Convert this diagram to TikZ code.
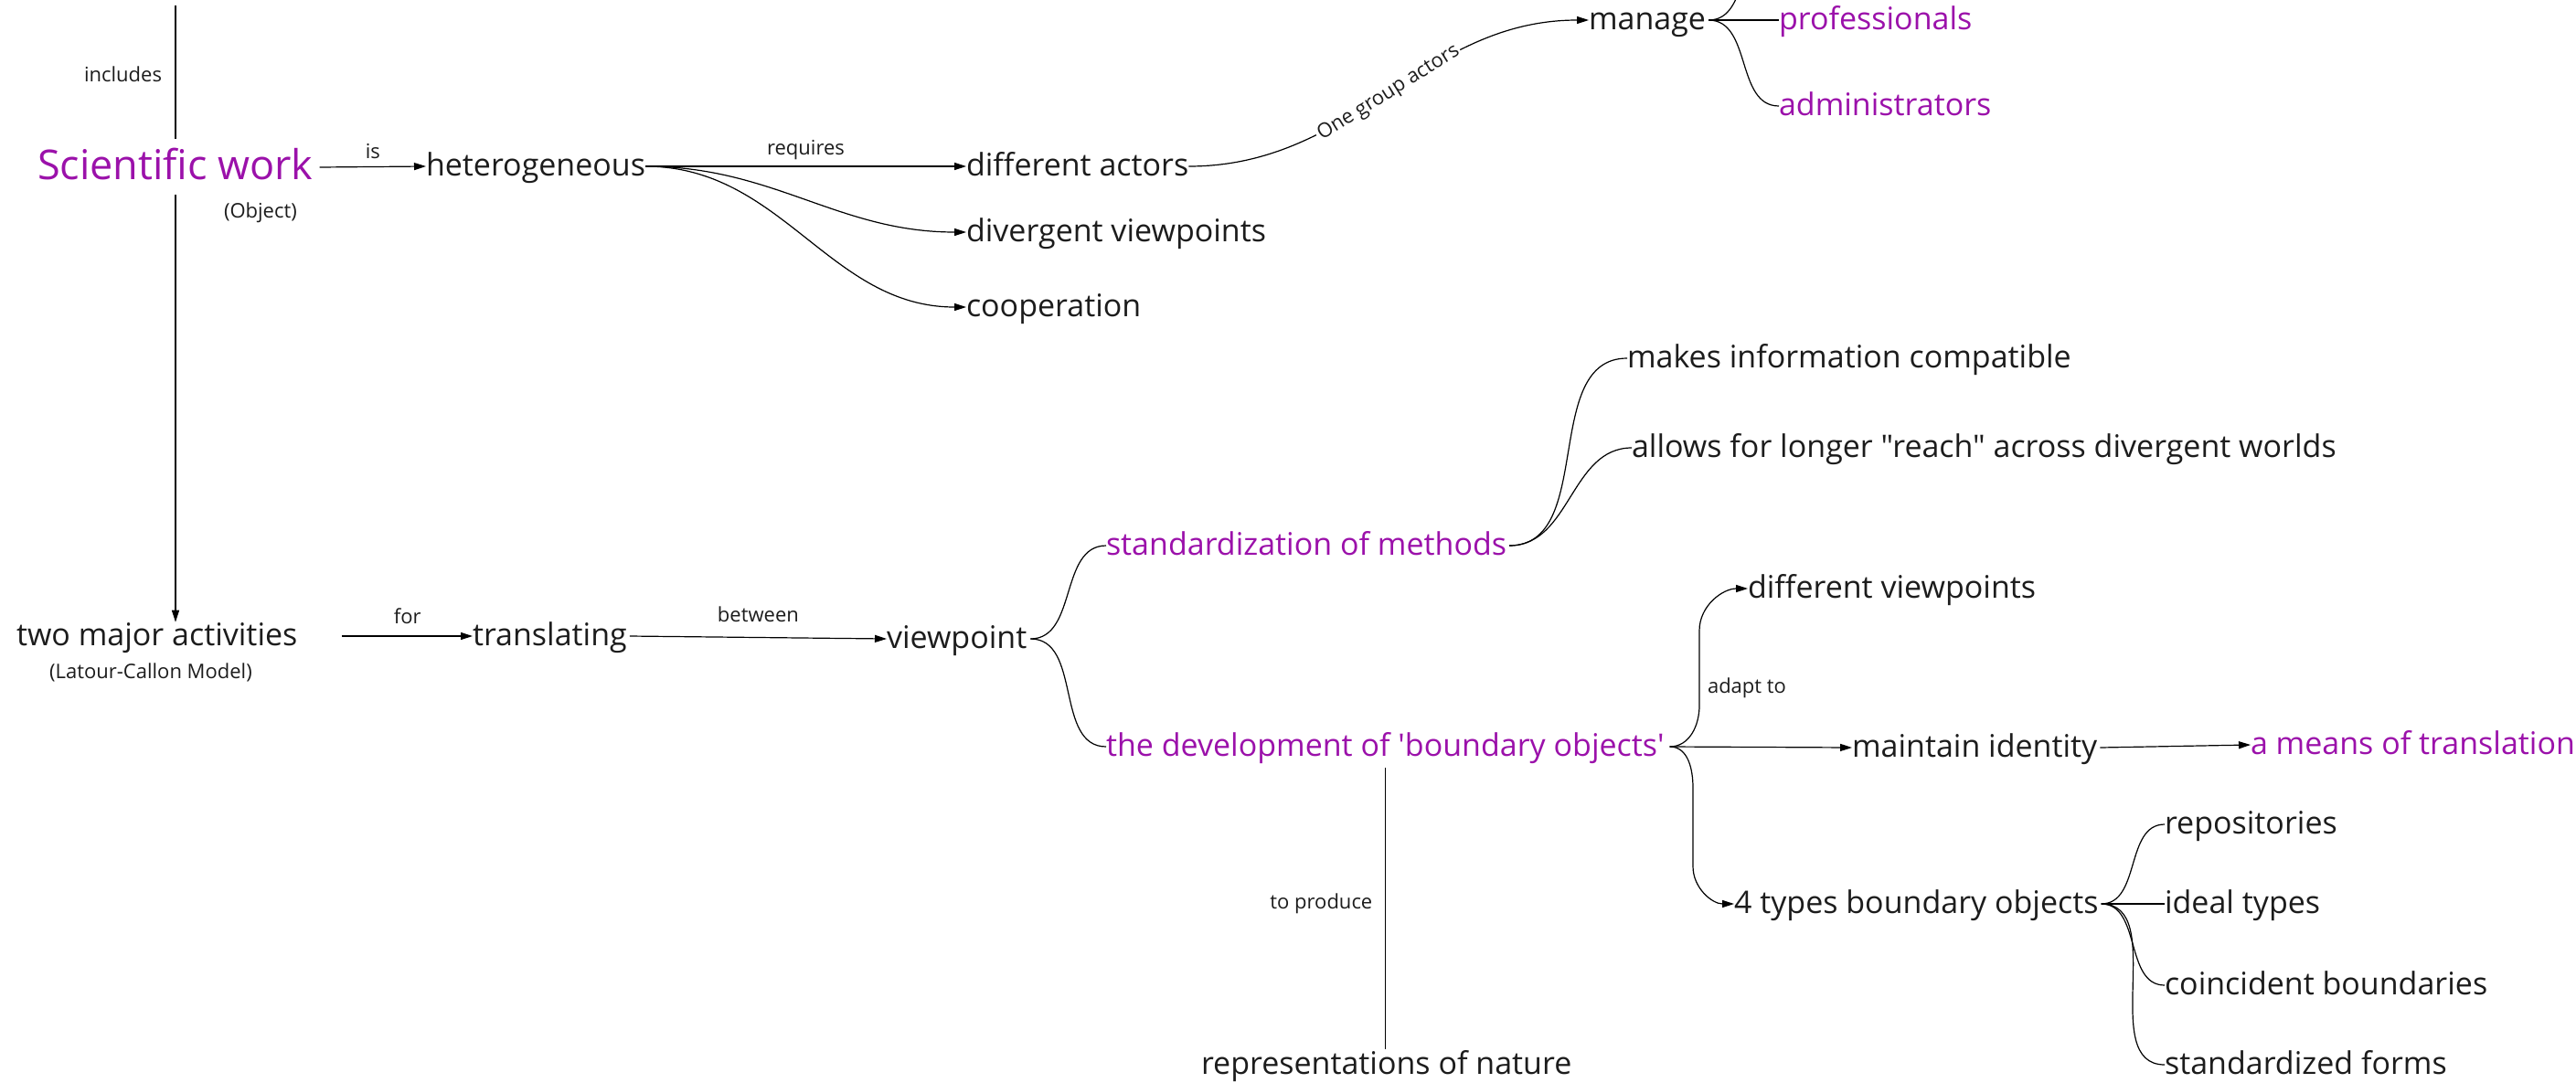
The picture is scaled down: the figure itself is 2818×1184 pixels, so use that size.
\documentclass[tikz,border=0pt]{standalone}
\usepackage{fontspec}
\setmainfont{Open Sans}[Ligatures=TeXOff]
\usetikzlibrary{arrows.meta,calc}
\definecolor{accent}{RGB}{155,17,170}
\definecolor{ink}{RGB}{28,28,28}
\begin{document}
\begin{tikzpicture}[x=1pt,y=-1pt,
  every node/.style={inner sep=0pt,outer sep=0pt,text=ink},
  topic/.style={anchor=west,font=\fontsize{34}{40}\selectfont,text height=25.5pt,text depth=5.1pt},
  key/.style={topic,text=accent},
  title/.style={anchor=west,font=\fontsize{45}{54}\selectfont,text=accent,text height=33.8pt,text depth=6.8pt},
  tag/.style={font=\fontsize{22}{26}\selectfont},
  link/.style={line width=1.2pt,draw=black},
  arr/.style={link,-{Triangle[length=13pt,width=8pt]}}]
\useasboundingbox (0,0) rectangle (2818,1184);
\clip (0,0) rectangle (2818,1184);

% ---- upper branch ----
\node[title] (sci) at (41,183) {Scientific work};
\node[tag,anchor=base west] (obj) at (245,238) {(Object)};
\coordinate (roottop) at (192,6);
\coordinate (scitop) at ([yshift=11pt]sci.north);
\coordinate (scibot) at ([yshift=-10pt]sci.south);
\draw[link] (roottop) -- (roottop |- scitop)
  node[midway,tag,anchor=base east,xshift=-15pt,yshift=-11pt] (inclbl) {includes};

\node[topic] (het) at (466,182) {heterogeneous};
\draw[arr] ([xshift=7pt]sci.east) -- (het.west)
  node[midway,tag,anchor=base,yshift=9pt] (islbl) {is};

\node[topic] (actors) at (1057,182) {different actors};
\node[topic] (diverg) at (1057,254) {divergent viewpoints};
\node[topic] (coop) at (1057,336) {cooperation};
\draw[arr] (het.east) -- (actors.west)
  node[midway,tag,anchor=base,yshift=13pt] (reqlbl) {requires};
\draw[arr] (het.east) to[out=0,in=180] (diverg.west);
\draw[arr] (het.east) to[out=0,in=180] (coop.west);

\node[topic] (manage) at (1738,22) {manage};
\draw[arr] (actors.east) to[out=0,in=180]
  node[sloped,tag,fill=white,inner xsep=2pt,inner ysep=1pt] (grplbl) {One group actors} (manage.west);

\node[key] (prof) at (1946,22) {professionals};
\node[key] (admin) at (1946,116) {administrators};
\coordinate (mgtop) at (1946,-72);
\draw[link] ([xshift=3pt]manage.east) to[out=0,in=180] (mgtop);
\draw[link] ([xshift=3pt]manage.east) -- (prof.west);
\draw[link] ([xshift=3pt]manage.east) to[out=0,in=180] (admin.west);

% ---- lower branch ----
\node[topic] (two) at (18,696) {two major activities};
\node[tag,anchor=base] (model) at (165,742) {(Latour-Callon Model)};
\draw[arr] (roottop |- scibot) -- (roottop |- two.north);

\node[topic] (trans) at (517,696) {translating};
\draw[arr] ([xshift=49pt]two.east) -- (trans.west)
  node[midway,tag,anchor=base,yshift=14pt] (forlbl) {for};

\node[topic] (view) at (970,699) {viewpoint};
\draw[arr] ([xshift=3pt]trans.east) -- (view.west)
  node[midway,tag,anchor=base,yshift=17pt] (btwlbl) {between};

\node[key] (std) at (1210,597) {standardization of methods};
\node[key] (dev) at (1210,817) {the development of 'boundary objects'};
\draw[link] ([xshift=4pt]view.east) to[out=0,in=180] (std.west);
\draw[link] ([xshift=4pt]view.east) to[out=0,in=180] (dev.west);

\node[topic] (makes) at (1780,392) {makes information compatible};
\node[topic] (allows) at (1785,490) {allows for longer "reach" across divergent worlds};
\draw[link] ([xshift=3pt]std.east) to[out=0,in=180] (makes.west);
\draw[link] ([xshift=3pt]std.east) to[out=0,in=180] (allows.west);

\node[topic] (diffview) at (1912,644) {different viewpoints};
\node[topic] (maintain) at (2026,818) {maintain identity};
\node[key] (means) at (2462,815) {a means of translation};
\node[topic] (types) at (1897,989) {4 types boundary objects};

\coordinate (upA) at (1859,772);
\coordinate (upB) at (1859,690);
\coordinate (dnA) at (1852,862);
\coordinate (dnB) at (1852,948);
\draw[arr] ([xshift=6pt]dev.east) to[out=0,in=-90] (upA) -- (upB)
  to[out=90,in=180] (diffview.west);
\node[tag,anchor=base west] (adapt) at (1868,758) {adapt to};
\draw[arr] ([xshift=6pt]dev.east) -- (maintain.west);
\draw[arr] ([xshift=6pt]dev.east) to[out=0,in=90] (dnA) -- (dnB)
  to[out=-90,in=180] (types.west);
\draw[arr] ([xshift=3pt]maintain.east) -- (means.west);

\node[topic] (repo) at (2368,902) {repositories};
\node[topic] (ideal) at (2368,989) {ideal types};
\node[topic] (coinc) at (2368,1078) {coincident boundaries};
\node[topic] (forms) at (2368,1165) {standardized forms};
\draw[link] ([xshift=3pt]types.east) to[out=0,in=180] (repo.west);
\draw[link] ([xshift=3pt]types.east) -- (ideal.west);
\draw[link] ([xshift=3pt]types.east) to[out=0,in=180] (coinc.west);
\draw[link] ([xshift=3pt]types.east) to[out=0,in=180] (forms.west);

\node[topic] (reps) at (1314,1165) {representations of nature};
\coordinate (devbot) at ([yshift=-8pt]dev.south);
\coordinate (repstop) at ([yshift=2pt]reps.north);
\draw[link] (devbot) -- (devbot |- repstop)
  node[midway,tag,anchor=base east,xshift=-14pt] (prodlbl) {to produce};
\end{tikzpicture}
\end{document}
